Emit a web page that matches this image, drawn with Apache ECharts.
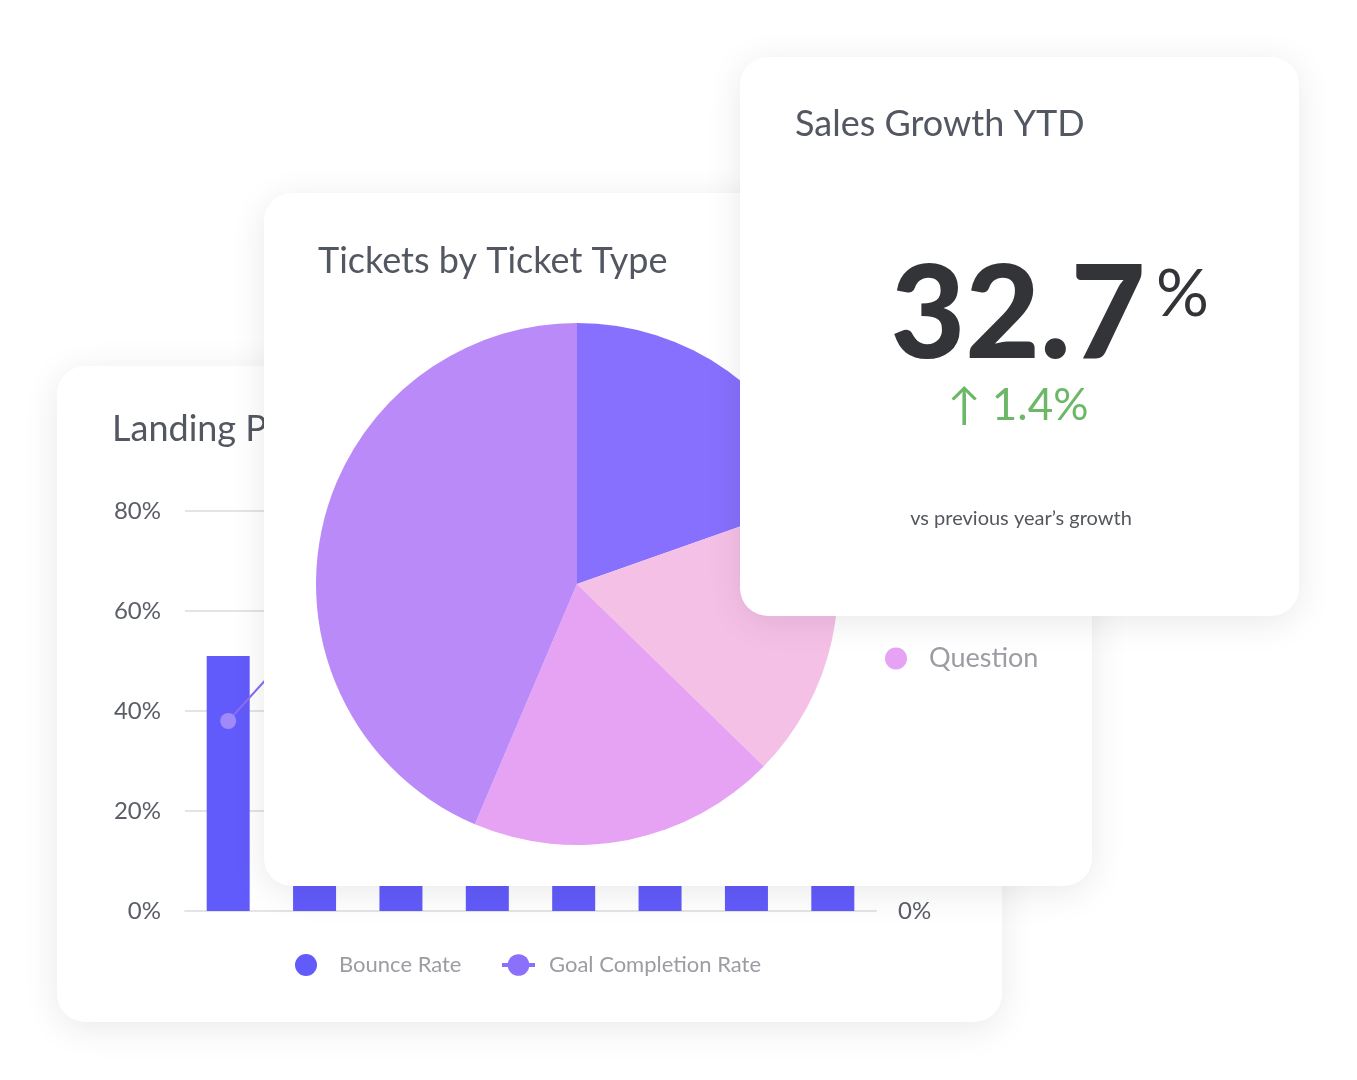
<!DOCTYPE html>
<html>
<head>
<meta charset="utf-8">
<script src="https://cdn.jsdelivr.net/npm/echarts@6/dist/echarts.min.js"></script>
<style>
html,body{margin:0;padding:0;background:#fff;width:1357px;height:1080px;overflow:hidden;}
.card{position:absolute;background:#fff;border-radius:28px;box-shadow:0 6px 36px rgba(0,0,0,0.09);overflow:hidden;}
#barCard{left:57px;top:366px;width:945px;height:656px;z-index:1;}
#pieCard{left:264px;top:193px;width:828px;height:693px;z-index:2;}
#kpiCard{left:740px;top:57px;width:559px;height:559px;z-index:3;}
</style>
</head>
<body>
<div id="barCard" class="card"></div>
<div id="pieCard" class="card"></div>
<div id="kpiCard" class="card"></div>
<script>
// ---------- data ----------
const barCategories = ['Jan', 'Feb', 'Mar', 'Apr', 'May', 'Jun', 'Jul', 'Aug'];
const bounceRate = [51, 47, 44, 42, 45, 40, 38, 41];
const goalCompletionRate = [38, 57, 52, 49, 53, 47, 48, 51];
const yTickValues = [0, 20, 40, 60, 80];

const ticketTypes = ['Task', 'Problem', 'Question', 'Incident'];
const ticketShares = [19.6, 17.7, 19.1, 43.6];
const ticketLegendOrder = ['Incident', 'Task', 'Problem', 'Question'];

const kpiTitle = 'Sales Growth YTD';
const kpiValue = '32.7';
const kpiUnit = '%';
const kpiDelta = '\u2191 1.4%';
const kpiNote = 'vs previous year\u2019s growth';

// ---------- styles ----------
const FONT = 'Lato, "Noto Sans", sans-serif';
const titleColor = '#535761';
const axisColor = '#5b5e68';
const legendColor = '#9b9ca4';

// ---------- bar / line card ----------
const barChart = echarts.init(document.getElementById('barCard'));
barChart.setOption({
  animation: false,
  title: {
    text: 'Landing Page Performance', left: 55, top: 45, padding: 0,
    textStyle: { fontFamily: FONT, fontSize: 36, fontWeight: 'normal', color: titleColor }
  },
  legend: [
    {
      data: ['Bounce Rate'], left: 238, top: 588, padding: 0,
      icon: 'circle', itemWidth: 56, itemHeight: 22,
      textStyle: { fontFamily: FONT, fontSize: 22, color: legendColor }
    },
    {
      data: ['Goal Completion Rate'], left: 443, top: 588, padding: 0,
      itemWidth: 33, itemHeight: 27,
      lineStyle: { width: 4, color: '#8a70fa' },
      itemStyle: { color: '#8a70fa' },
      textStyle: { fontFamily: FONT, fontSize: 22, color: legendColor, padding: [0, 0, 0, 9] }
    }
  ],
  grid: { left: 128, right: 126, top: 145, bottom: 111, containLabel: false },
  xAxis: {
    type: 'category', data: barCategories,
    axisTick: { show: false }, axisLabel: { show: false },
    axisLine: { lineStyle: { color: '#e4e4e4', width: 2 } }
  },
  yAxis: [
    {
      type: 'value', min: yTickValues[0], max: yTickValues[yTickValues.length - 1], interval: 20,
      axisLine: { show: false }, axisTick: { show: false },
      axisLabel: { formatter: '{value}%', fontFamily: FONT, fontSize: 24, color: axisColor, margin: 24 },
      splitLine: { lineStyle: { color: '#e4e4e4', width: 2 } }
    },
    {
      type: 'value', position: 'right', min: yTickValues[0], max: yTickValues[yTickValues.length - 1], interval: 20,
      axisLine: { show: false }, axisTick: { show: false },
      axisLabel: { formatter: '{value}%', fontFamily: FONT, fontSize: 24, color: axisColor, margin: 22 },
      splitLine: { show: false }
    }
  ],
  series: [
    {
      name: 'Bounce Rate', type: 'bar', data: bounceRate, barWidth: 43,
      itemStyle: { color: '#625bfb' }
    },
    {
      name: 'Goal Completion Rate', type: 'line', yAxisIndex: 1, data: goalCompletionRate,
      symbol: 'circle', symbolSize: 16, showSymbol: true,
      lineStyle: { color: '#8a6cf6', width: 2 },
      itemStyle: { color: '#a08af9' }
    }
  ]
});

// ---------- pie card ----------
const pieColors = ['#8770fe', '#f5c0e6', '#e6a3f3', '#ba8af9'];
const pieChart = echarts.init(document.getElementById('pieCard'));
pieChart.setOption({
  animation: false,
  title: {
    text: 'Tickets by Ticket Type', left: 54, top: 50, padding: 0,
    textStyle: { fontFamily: FONT, fontSize: 36, fontWeight: 'normal', color: titleColor }
  },
  legend: {
    data: ticketLegendOrder, orient: 'vertical', left: 621, top: 290, padding: 0,
    icon: 'circle', itemWidth: 56, itemHeight: 22, itemGap: 27,
    textStyle: { fontFamily: FONT, fontSize: 27, color: legendColor }
  },
  series: [{
    type: 'pie', center: [313, 391], radius: 261, startAngle: 90, clockwise: true,
    label: { show: false }, labelLine: { show: false },
    emphasis: { disabled: true },
    data: ticketTypes.map((n, i) => ({ name: n, value: ticketShares[i], itemStyle: { color: pieColors[i] } }))
  }]
});

// ---------- KPI card ----------
const kpiChart = echarts.init(document.getElementById('kpiCard'));
kpiChart.setOption({
  animation: false,
  title: {
    text: kpiTitle, left: 55, top: 49, padding: 0,
    textStyle: { fontFamily: FONT, fontSize: 36, fontWeight: 'normal', color: titleColor }
  },
  graphic: [
    { type: 'text', x: 278, y: 259, style: { text: kpiValue, font: '900 129px ' + FONT, fill: '#333438', align: 'center', verticalAlign: 'middle' } },
    { type: 'text', x: 416, y: 238, style: { text: kpiUnit, font: 'normal 66px ' + FONT, fill: '#333438', align: 'left', verticalAlign: 'middle' } },
    { type: 'text', x: 278, y: 349, style: { text: kpiDelta, font: 'normal 44px ' + FONT, fill: '#6cb868', align: 'center', verticalAlign: 'middle' } },
    { type: 'text', x: 281, y: 462, style: { text: kpiNote, font: 'normal 20px ' + FONT, fill: '#55575f', align: 'center', verticalAlign: 'middle' } }
  ]
});
</script>
</body>
</html>
